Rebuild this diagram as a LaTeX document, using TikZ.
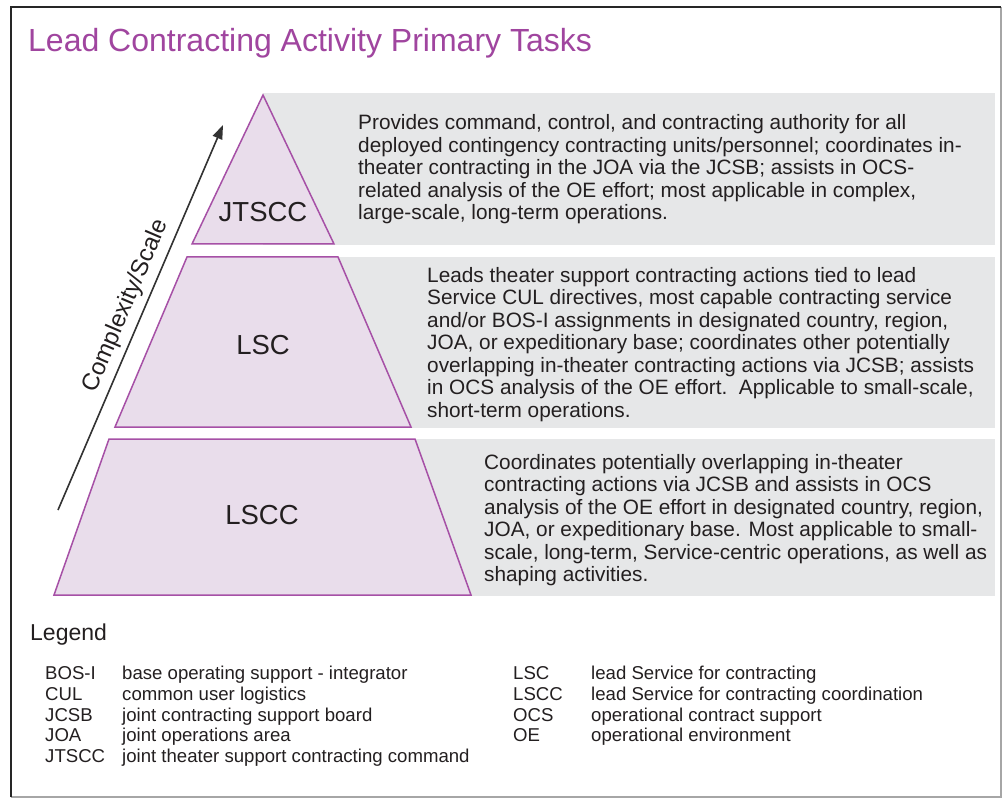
\documentclass[tikz,border=0pt]{standalone}
\usepackage{fontspec}
\setmainfont{Liberation Sans}
\usetikzlibrary{arrows.meta}
\definecolor{titlepurple}{HTML}{A0459F}
\definecolor{layerfill}{HTML}{E9DDEB}
\definecolor{layerline}{HTML}{A650A6}
\definecolor{boxgray}{HTML}{E6E7E8}
\definecolor{txt}{HTML}{231F20}
\begin{document}
\begin{tikzpicture}[x=1pt,y=-1pt,
 layer/.style={fill=layerfill,draw=layerline,line width=1.5pt,line join=miter},
 graybox/.style={fill=boxgray,draw=none},
 desc/.style={anchor=north west,inner sep=0pt,align=left,text=txt,font=\fontsize{20.8}{22.5}\selectfont},
 lbl/.style={text=txt,font=\fontsize{27.5}{30}\selectfont,inner sep=0pt},
 legab/.style={anchor=base west,inner sep=0pt,text=txt,font=\fontsize{18.6}{20}\selectfont},
]
\useasboundingbox (0,0) rectangle (1003,799);
\fill[white] (0,0) rectangle (1003,799);
% frame
\draw[black!35,line width=1.5pt] (11,797) -- (1001,797) -- (1001,7);
\draw[black!85,line width=1.5pt] (11,797) -- (11,7) -- (1001,7);
% title
\node[anchor=base west,inner sep=0pt,text=titlepurple,font=\fontsize{32}{36}\selectfont] (title) at (28,52) {Lead Contracting Activity Primary Tasks};
% gray boxes
\fill[graybox] (263,93) rectangle (995,245);
\fill[graybox] (263,257) rectangle (995,428);
\fill[graybox] (263,439) rectangle (995,596);
% pyramid layers
\draw[layer] (263,95) -- (334,244) -- (192,244) -- cycle;
\draw[layer] (187,257) -- (338,257) -- (411,427) -- (115,427) -- cycle;
\draw[layer] (109,439) -- (415,439) -- (471,595) -- (54,595) -- cycle;
\node[lbl] (jtscc) at (263,212) {JTSCC};
\node[lbl] (lsc) at (263,345) {LSC};
\node[lbl] (lscc) at (262,515) {LSCC};
% arrow
\coordinate (arrowtail) at (58,510);
\coordinate (arrowtip) at (223,125);
\draw[-{Triangle[length=14pt,width=10pt]},line width=1.6pt,black!80] (arrowtail) -- (arrowtip);
\node[text=txt,font=\fontsize{24}{26}\selectfont,rotate=66.8,inner sep=0pt] (scale) at (126,306) {Complexity/Scale};
% descriptions
\node[desc] (d1) at (358,114.5) {Provides command, control, and contracting authority for all\\deployed contingency contracting units/personnel; coordinates in-\\theater contracting in the JOA via the JCSB; assists in OCS-\\related analysis of the OE effort; most applicable in complex,\\large-scale, long-term operations.};
\node[desc] (d2) at (427,267) {Leads theater support contracting actions tied to lead\\Service CUL directives, most capable contracting service\\and/or BOS-I assignments in designated country, region,\\JOA, or expeditionary base; coordinates other potentially\\overlapping in-theater contracting actions via JCSB; assists\\in OCS analysis of the OE effort.\ \ Applicable to small-scale,\\short-term operations.};
\node[desc] (d3) at (484,454) {Coordinates potentially overlapping in-theater\\contracting actions via JCSB and assists in OCS\\analysis of the OE effort in designated country, region,\\JOA, or expeditionary base. Most applicable to small-\\scale, long-term, Service-centric operations, as well as\\shaping activities.};
% legend
\node[anchor=base west,inner sep=0pt,text=txt,font=\fontsize{23}{26}\selectfont] (legend) at (30,640) {Legend};
\node[legab] (a1) at (45,679) {BOS-I};
\node[legab] (b1) at (122,679) {base operating support - integrator};
\node[legab] (a2) at (45,700) {CUL};
\node[legab] (b2) at (122,700) {common user logistics};
\node[legab] (a3) at (45,721) {JCSB};
\node[legab] (b3) at (122,721) {joint contracting support board};
\node[legab] (a4) at (45,741) {JOA};
\node[legab] (b4) at (122,741) {joint operations area};
\node[legab] (a5) at (45,762) {JTSCC};
\node[legab] (b5) at (122,762) {joint theater support contracting command};
\node[legab] (a6) at (513,679) {LSC};
\node[legab] (b6) at (591,679) {lead Service for contracting};
\node[legab] (a7) at (513,700) {LSCC};
\node[legab] (b7) at (591,700) {lead Service for contracting coordination};
\node[legab] (a8) at (513,721) {OCS};
\node[legab] (b8) at (591,721) {operational contract support};
\node[legab] (a9) at (513,741) {OE};
\node[legab] (b9) at (591,741) {operational environment};
\end{tikzpicture}
\end{document}
